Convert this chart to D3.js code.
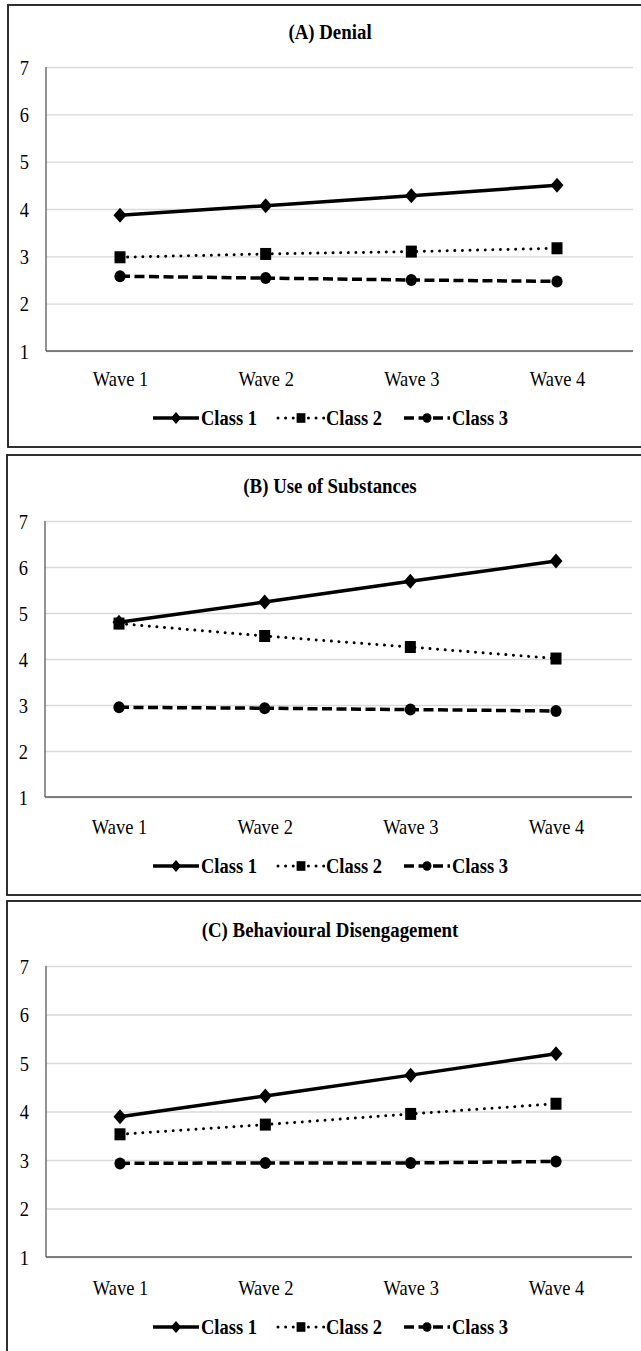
<!DOCTYPE html>
<html>
<head>
<meta charset="utf-8">
<script src="https://cdn.jsdelivr.net/npm/d3@7/dist/d3.min.js"></script>
<style>
  body { margin: 0; background: #fff; }
  text { font-family: "Liberation Serif", "Times New Roman", serif; fill: #000; }
</style>
</head>
<body>
<svg id="frame"></svg>
<script>
// data
const waves = ["Wave 1", "Wave 2", "Wave 3", "Wave 4"];
const classNames = ["Class 1", "Class 2", "Class 3"];
const yTicks = [1, 2, 3, 4, 5, 6, 7];
const titles = ["(A) Denial", "(B) Use of Substances", "(C) Behavioural Disengagement"];

const denialClass1 = [3.87, 4.07, 4.28, 4.50];
const denialClass2 = [2.98, 3.05, 3.10, 3.17];
const denialClass3 = [2.58, 2.54, 2.50, 2.47];

const substClass1 = [4.80, 5.24, 5.69, 6.13];
const substClass2 = [4.77, 4.50, 4.26, 4.01];
const substClass3 = [2.95, 2.93, 2.90, 2.87];

const disengClass1 = [3.89, 4.32, 4.75, 5.19];
const disengClass2 = [3.53, 3.73, 3.95, 4.16];
const disengClass3 = [2.93, 2.94, 2.94, 2.97];

const panelSeries = [
  [denialClass1, denialClass2, denialClass3],
  [substClass1, substClass2, substClass3],
  [disengClass1, disengClass2, disengClass3]
];

// layout
const width = 641;
const height = 1351;
const layout = [
  {box: [8, 5, 660, 442], x0: 46, x1: 633, top: 67, bottom: 351, titleY: 39, pad: 19, legendY: 425},
  {box: [7, 455, 660, 440], x0: 45, x1: 632, top: 521, bottom: 797, titleY: 493, pad: 21, legendY: 873},
  {box: [7, 901, 660, 470], x0: 46, x1: 632, top: 966, bottom: 1257, titleY: 937, pad: 22, legendY: 1334}
];
const sx = 0.84; // narrow serif look

const lineStyles = [
  {width: 3.5, dash: null, cap: 'butt'},
  {width: 3, dash: '0.01 7.6', cap: 'round'},
  {width: 3.5, dash: '10 4.5', cap: 'butt'}
];

const svg = d3.select('#frame')
  .attr('width', width)
  .attr('height', height);

function marker(g, k, x, y, s) {
  if (k === 0) {
    g.append('path')
      .attr('d', `M${x},${y - 7.5 * s}L${x + 6.5 * s},${y}L${x},${y + 7.5 * s}L${x - 6.5 * s},${y}Z`)
      .attr('fill', '#000');
  } else if (k === 1) {
    g.append('rect')
      .attr('x', x - 5.5 * s).attr('y', y - 6 * s)
      .attr('width', 11 * s).attr('height', 12 * s)
      .attr('fill', '#000');
  } else {
    g.append('ellipse')
      .attr('cx', x).attr('cy', y)
      .attr('rx', 5.6 * s).attr('ry', 6 * s)
      .attr('fill', '#000');
  }
}

layout.forEach((L, p) => {
  const g = svg.append('g');

  g.append('rect')
    .attr('x', L.box[0]).attr('y', L.box[1])
    .attr('width', L.box[2]).attr('height', L.box[3])
    .attr('fill', 'none')
    .attr('stroke', '#1a1a1a')
    .attr('stroke-width', 1.8);

  g.append('text')
    .attr('transform', `translate(330,${L.titleY}) scale(0.92,1)`)
    .attr('text-anchor', 'middle')
    .style('font-size', '20.5px')
    .style('font-weight', 'bold')
    .text(titles[p]);

  const y = d3.scaleLinear().domain([1, 7]).range([L.bottom, L.top]);
  const x = d3.scalePoint().domain(waves).range([L.x0 + 74, L.x1 - 76]);

  // gridlines + y labels
  const ya = g.append('g')
    .attr('transform', `translate(${L.x0},0)`)
    .call(d3.axisLeft(y).tickValues(yTicks).tickSize(-(L.x1 - L.x0)).tickPadding(0).tickFormat(d3.format('d')));
  ya.select('.domain').remove();
  ya.selectAll('.tick line').attr('stroke', '#d9d9d9').attr('stroke-width', 1.3);
  ya.selectAll('.tick text')
    .attr('x', -17 / sx)
    .attr('transform', `scale(${sx},1)`)
    .style('font-size', '22px')
    .style('font-family', '"Liberation Serif", serif');

  // axis lines
  g.append('line')
    .attr('x1', L.x0).attr('x2', L.x0)
    .attr('y1', y(7)).attr('y2', y(1))
    .attr('stroke', '#595959').attr('stroke-width', 1.3);
  g.append('line')
    .attr('x1', L.x0).attr('x2', L.x1)
    .attr('y1', y(1)).attr('y2', y(1))
    .attr('stroke', '#595959').attr('stroke-width', 1.3);

  // x labels
  const xa = g.append('g')
    .attr('transform', `translate(0,${L.bottom})`)
    .call(d3.axisBottom(x).tickSize(0).tickPadding(L.pad));
  xa.select('.domain').remove();
  xa.selectAll('.tick text')
    .attr('transform', `scale(${sx},1)`)
    .style('font-size', '22px')
    .style('font-family', '"Liberation Serif", serif');

  // series
  const line = d3.line().x((d, i) => x(waves[i])).y(d => y(d));
  panelSeries[p].forEach((vals, k) => {
    const st = lineStyles[k];
    g.append('path')
      .datum(vals)
      .attr('d', line)
      .attr('fill', 'none')
      .attr('stroke', '#000')
      .attr('stroke-width', st.width)
      .attr('stroke-linecap', st.cap)
      .attr('stroke-dasharray', st.dash);
  });
  panelSeries[p].forEach((vals, k) => {
    vals.forEach((v, i) => marker(g, k, x(waves[i]), y(v), 1));
  });

  // legend
  const legendX = [153, 278, 404];
  classNames.forEach((c, k) => {
    const st = lineStyles[k];
    const cy = L.legendY - 7;
    const lx = legendX[k];
    g.append('line')
      .attr('x1', lx).attr('x2', lx + 46)
      .attr('y1', cy).attr('y2', cy)
      .attr('stroke', '#000')
      .attr('stroke-width', st.width)
      .attr('stroke-linecap', st.cap)
      .attr('stroke-dasharray', st.dash);
    marker(g, k, lx + 23, cy, 0.8);
    g.append('text')
      .attr('transform', `translate(${lx + 48},${L.legendY}) scale(0.88,1)`)
      .style('font-size', '21px')
      .style('font-weight', 'bold')
      .text(c);
  });
});
</script>
</body>
</html>
